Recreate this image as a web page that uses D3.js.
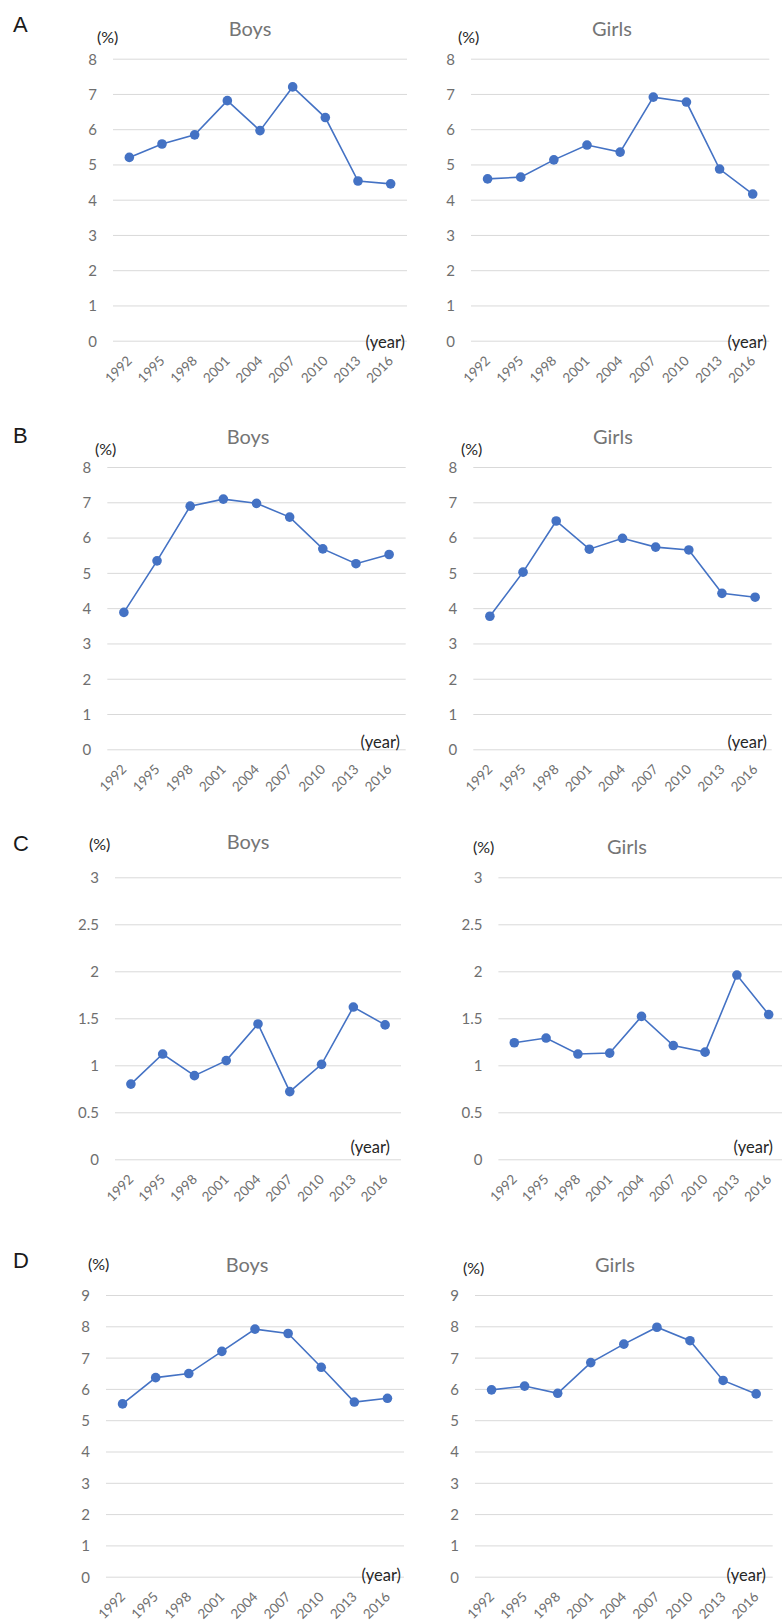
<!DOCTYPE html>
<html>
<head>
<meta charset="utf-8">
<script src="https://cdn.jsdelivr.net/npm/d3@7"></script>
<style>
  body { margin: 0; background: #fff; }
  svg text { font-family: Lato, "Open Sans", sans-serif; }
</style>
</head>
<body>
<div id="chart"></div>
<script>
// survey years (x categories)
const years = ["1992", "1995", "1998", "2001", "2004", "2007", "2010", "2013", "2016"];

// series values (%)
const aBoys  = [5.20, 5.58, 5.84, 6.81, 5.96, 7.20, 6.33, 4.53, 4.45];
const aGirls = [4.59, 4.64, 5.13, 5.55, 5.35, 6.91, 6.77, 4.87, 4.16];
const bBoys  = [3.88, 5.34, 6.89, 7.09, 6.97, 6.58, 5.68, 5.26, 5.52];
const bGirls = [3.77, 5.02, 6.47, 5.67, 5.98, 5.73, 5.65, 4.42, 4.31];
const cBoys  = [0.80, 1.12, 0.89, 1.05, 1.44, 0.72, 1.01, 1.62, 1.43];
const cGirls = [1.24, 1.29, 1.12, 1.13, 1.52, 1.21, 1.14, 1.96, 1.54];
const dBoys  = [5.52, 6.36, 6.49, 7.20, 7.91, 7.77, 6.69, 5.58, 5.70];
const dGirls = [5.97, 6.09, 5.86, 6.84, 7.43, 7.97, 7.54, 6.27, 5.84];

// y axis tick values per panel row
const ticksA = [0, 1, 2, 3, 4, 5, 6, 7, 8];
const ticksB = [0, 1, 2, 3, 4, 5, 6, 7, 8];
const ticksC = [0, 0.5, 1, 1.5, 2, 2.5, 3];
const ticksD = [0, 1, 2, 3, 4, 5, 6, 7, 8, 9];

const panelLetters = ["A", "B", "C", "D"];

const W = 782, H = 1623;
const blue = "#4472C4";

// layout of each small chart (pixel boxes, not data)
const charts = [
  {title: "Boys",  values: aBoys,  ticks: ticksA, x0: 113, x1: 407,   top: 58.7,  bot: 340.7,  tx: 250, ty: 36,   px: 97,  py: 43,   yx: 405, yy: 348},
  {title: "Girls", values: aGirls, ticks: ticksA, x0: 471, x1: 769.3, top: 58.7,  bot: 340.7,  tx: 612, ty: 36,   px: 458, py: 43,   yx: 767, yy: 348},
  {title: "Boys",  values: bBoys,  ticks: ticksB, x0: 107.3, x1: 405.7, top: 467, bot: 749.3,  tx: 248, ty: 444,  px: 95,  py: 455,  yx: 400, yy: 748},
  {title: "Girls", values: bGirls, ticks: ticksB, x0: 473.3, x1: 771.7, top: 467, bot: 749.3,  tx: 613, ty: 444,  px: 461, py: 455,  yx: 767, yy: 748},
  {title: "Boys",  values: cBoys,  ticks: ticksC, x0: 115, x1: 401,   top: 877.3, bot: 1159.3, tx: 248, ty: 849,  px: 89,  py: 850,  yx: 390, yy: 1153},
  {title: "Girls", values: cGirls, ticks: ticksC, x0: 498.4, x1: 784.6, top: 877.3, bot: 1159.3, tx: 627, ty: 854, px: 473, py: 853, yx: 773, yy: 1153},
  {title: "Boys",  values: dBoys,  ticks: ticksD, x0: 106, x1: 404,   top: 1295,  bot: 1576.7, tx: 247, ty: 1272, px: 88,  py: 1270, yx: 401, yy: 1581},
  {title: "Girls", values: dGirls, ticks: ticksD, x0: 475, x1: 772.7, top: 1295,  bot: 1576.7, tx: 615, ty: 1272, px: 463, py: 1274, yx: 766, yy: 1581}
];
const letterPos = [{x: 13, y: 32}, {x: 13, y: 443}, {x: 13, y: 851}, {x: 13, y: 1268}];

const svg = d3.select("#chart")
  .append("svg")
  .attr("width", W)
  .attr("height", H);

svg.selectAll("text.letter")
  .data(panelLetters)
  .enter()
  .append("text")
    .attr("class", "letter")
    .attr("x", (d, i) => letterPos[i].x)
    .attr("y", (d, i) => letterPos[i].y)
    .style("font-family", "'Liberation Sans', Arial, sans-serif")
    .style("font-size", "22px")
    .attr("fill", "#1a1a1a")
    .text(d => d);

charts.forEach(c => {
  let g = svg.append("g");

  let x = d3.scalePoint()
    .domain(years)
    .range([c.x0, c.x1])
    .padding(0.5);

  let yMax = c.ticks[c.ticks.length - 1];
  let y = d3.scaleLinear()
    .domain([0, yMax])
    .range([c.bot, c.top]);

  // horizontal gridlines
  let yAxis = d3.axisLeft(y)
    .tickValues(c.ticks)
    .tickSize(-(c.x1 - c.x0))
    .tickPadding(16)
    .tickFormat(d3.format("~g"));

  let ya = g.append("g")
    .attr("transform", `translate(${c.x0},0)`)
    .call(yAxis);
  ya.select(".domain").remove();
  ya.selectAll(".tick line")
    .attr("stroke", "#d9d9d9")
    .attr("stroke-width", 1);
  ya.selectAll(".tick text")
    .attr("fill", "#6f6f6f")
    .style("font-size", "15px")
    .attr("dy", "0.36em");

  // rotated year labels
  let xAxis = d3.axisBottom(x).tickSize(0).tickPadding(0);
  let xa = g.append("g")
    .attr("transform", `translate(0,${c.bot})`)
    .call(xAxis);
  xa.select(".domain").remove();
  xa.selectAll(".tick text")
    .attr("fill", "#6f6f6f")
    .style("font-size", "13.5px")
    .attr("text-anchor", "end")
    .attr("y", 0)
    .attr("dy", 0)
    .attr("transform", "translate(3,21) rotate(-45)");

  // line + markers
  let line = d3.line()
    .x((d, i) => x(years[i]))
    .y(d => y(d));

  g.append("path")
    .datum(c.values)
    .attr("fill", "none")
    .attr("stroke", blue)
    .attr("stroke-width", 1.6)
    .attr("d", line);

  g.selectAll("circle")
    .data(c.values)
    .enter()
    .append("circle")
      .attr("cx", (d, i) => x(years[i]))
      .attr("cy", d => y(d))
      .attr("r", 4.8)
      .attr("fill", blue);

  // labels
  g.append("text")
    .attr("x", c.tx)
    .attr("y", c.ty)
    .attr("text-anchor", "middle")
    .attr("fill", "#757575")
    .style("font-size", "20px")
    .text(c.title);

  g.append("text")
    .attr("x", c.px)
    .attr("y", c.py)
    .attr("fill", "#262626")
    .style("font-size", "16px")
    .text("(%)");

  g.append("text")
    .attr("x", c.yx)
    .attr("y", c.yy)
    .attr("text-anchor", "end")
    .attr("fill", "#262626")
    .style("font-size", "16.5px")
    .text("(year)");
});
</script>
</body>
</html>
